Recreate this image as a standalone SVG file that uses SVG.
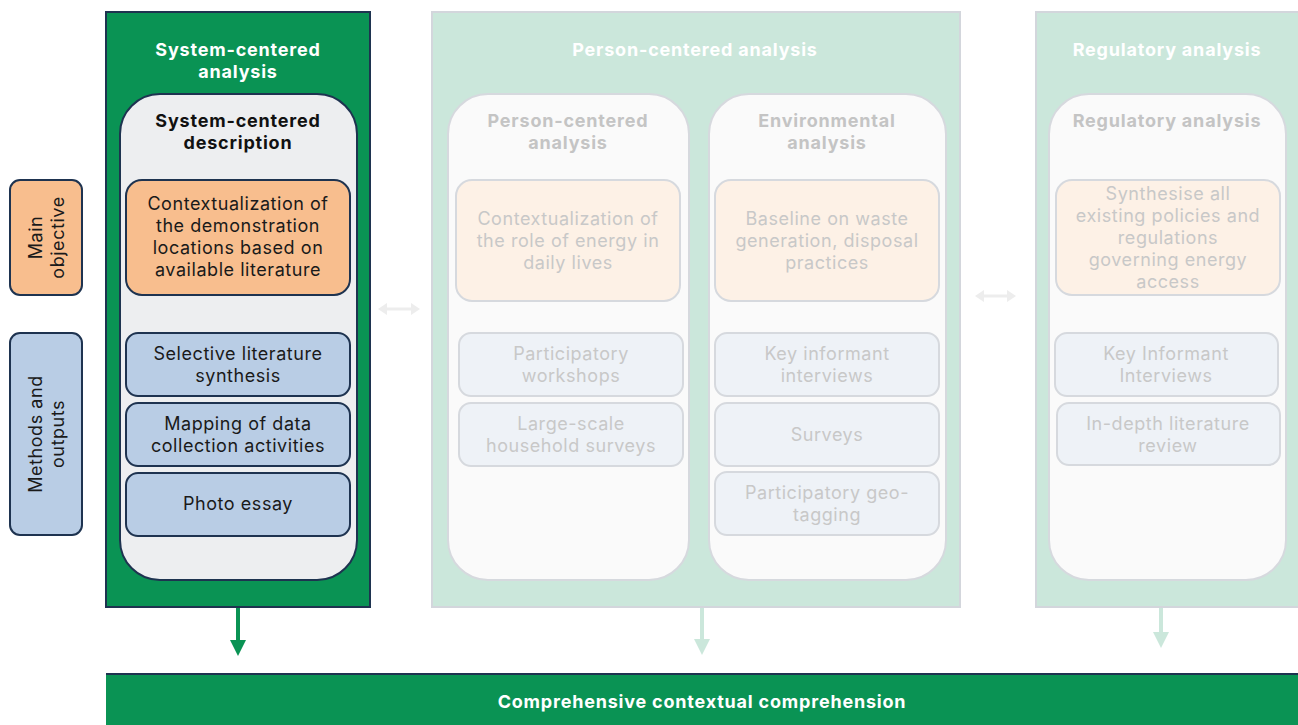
<svg xmlns="http://www.w3.org/2000/svg" width="1298" height="725" viewBox="0 0 1298 725">
  <defs>
    <style>
      text { font-family: Inter, "Open Sans", "Liberation Sans", sans-serif; text-anchor: middle; dominant-baseline: central; font-size: 18px; letter-spacing: 0.55px; }
      .title { font-weight: 700; fill: #ffffff; letter-spacing: 0.8px; }
      .sub { font-weight: 700; fill: #111111; letter-spacing: 0.8px; }
      .subdim { font-weight: 700; fill: #c4c4c4; letter-spacing: 0.8px; }
      .body { fill: #1a1a1a; }
      .bodydim { fill: #c8c8c8; }
      .active { fill: #0a9354; stroke: #1e3350; stroke-width: 2; }
      .faded { fill: #cbe7db; stroke: #d3d6dc; stroke-width: 2; }
      .inner { fill: #edeef0; stroke: #1e3350; stroke-width: 2; }
      .innerdim { fill: #fafafa; stroke: #d6d9de; stroke-width: 2; }
      .obj { fill: #f8be8e; stroke: #1e3350; stroke-width: 2; }
      .objdim { fill: #fdf1e6; stroke: #d6d9de; stroke-width: 2; }
      .meth { fill: #b9cde5; stroke: #1e3350; stroke-width: 2; }
      .methdim { fill: #eef2f7; stroke: #d6d9de; stroke-width: 2; }
    </style>
  </defs>

  <rect width="1298" height="725" fill="#ffffff"/>

  <!-- row labels -->
  <g id="label-objective">
    <rect x="10" y="180" width="72" height="115" rx="10" class="obj"/>
    <text class="body" transform="translate(46 237.5) rotate(-90)"><tspan x="0" y="-11">Main</tspan><tspan x="0" y="11">objective</tspan></text>
  </g>
  <g id="label-methods">
    <rect x="10" y="333" width="72" height="202" rx="10" class="meth"/>
    <text class="body" transform="translate(46 434) rotate(-90)"><tspan x="0" y="-11">Methods and</tspan><tspan x="0" y="11">outputs</tspan></text>
  </g>

  <!-- system-centered column -->
  <g id="system-centered">
    <rect x="106" y="12" width="264" height="595" class="active"/>
    <text class="title"><tspan x="238" y="49">System-centered</tspan><tspan x="238" y="71">analysis</tspan></text>
    <rect x="120" y="94" width="237" height="486" rx="40" class="inner"/>
    <text class="sub"><tspan x="238" y="120">System-centered</tspan><tspan x="238" y="142">description</tspan></text>
    <rect x="126" y="180" width="224" height="115" rx="16" class="obj"/>
    <text class="body"><tspan x="238" y="203">Contextualization of</tspan><tspan x="238" y="225">the demonstration</tspan><tspan x="238" y="247">locations based on</tspan><tspan x="238" y="269">available literature</tspan></text>
    <rect x="126" y="333" width="224" height="63" rx="12" class="meth"/>
    <text class="body"><tspan x="238" y="353">Selective literature</tspan><tspan x="238" y="375">synthesis</tspan></text>
    <rect x="126" y="403" width="224" height="63" rx="12" class="meth"/>
    <text class="body"><tspan x="238" y="423">Mapping of data</tspan><tspan x="238" y="445">collection activities</tspan></text>
    <rect x="126" y="473" width="224" height="63" rx="12" class="meth"/>
    <text class="body" x="238" y="503">Photo essay</text>
  </g>

  <!-- person-centered column -->
  <g id="person-centered">
    <rect x="432" y="12" width="528" height="595" class="faded"/>
    <text class="title" x="695" y="49">Person-centered analysis</text>
    <rect x="448" y="94" width="241" height="486" rx="40" class="innerdim"/>
    <text class="subdim"><tspan x="568" y="120">Person-centered</tspan><tspan x="568" y="142">analysis</tspan></text>
    <rect x="456" y="180" width="224" height="121" rx="16" class="objdim"/>
    <text class="bodydim"><tspan x="568" y="218">Contextualization of</tspan><tspan x="568" y="240">the role of energy in</tspan><tspan x="568" y="262">daily lives</tspan></text>
    <rect x="459" y="333" width="224" height="63" rx="12" class="methdim"/>
    <text class="bodydim"><tspan x="571" y="353">Participatory</tspan><tspan x="571" y="375">workshops</tspan></text>
    <rect x="459" y="403" width="224" height="63" rx="12" class="methdim"/>
    <text class="bodydim"><tspan x="571" y="423">Large-scale</tspan><tspan x="571" y="445">household surveys</tspan></text>
  </g>

  <g id="environmental">
    <rect x="709" y="94" width="237" height="486" rx="40" class="innerdim"/>
    <text class="subdim"><tspan x="827" y="120">Environmental</tspan><tspan x="827" y="142">analysis</tspan></text>
    <rect x="715" y="180" width="224" height="121" rx="16" class="objdim"/>
    <text class="bodydim"><tspan x="827" y="218">Baseline on waste</tspan><tspan x="827" y="240">generation, disposal</tspan><tspan x="827" y="262">practices</tspan></text>
    <rect x="715" y="333" width="224" height="63" rx="12" class="methdim"/>
    <text class="bodydim"><tspan x="827" y="353">Key informant</tspan><tspan x="827" y="375">interviews</tspan></text>
    <rect x="715" y="403" width="224" height="63" rx="12" class="methdim"/>
    <text class="bodydim" x="827" y="434">Surveys</text>
    <rect x="715" y="472" width="224" height="63" rx="12" class="methdim"/>
    <text class="bodydim"><tspan x="827" y="492">Participatory geo-</tspan><tspan x="827" y="514">tagging</tspan></text>
  </g>

  <!-- regulatory column -->
  <g id="regulatory">
    <rect x="1036" y="12" width="272" height="595" class="faded"/>
    <text class="title" x="1167" y="49">Regulatory analysis</text>
    <rect x="1049" y="94" width="237" height="486" rx="40" class="innerdim"/>
    <text class="subdim" x="1167" y="120">Regulatory analysis</text>
    <rect x="1056" y="180" width="224" height="115" rx="16" class="objdim"/>
    <text class="bodydim"><tspan x="1168" y="193">Synthesise all</tspan><tspan x="1168" y="215">existing policies and</tspan><tspan x="1168" y="237">regulations</tspan><tspan x="1168" y="259">governing energy</tspan><tspan x="1168" y="281">access</tspan></text>
    <rect x="1055" y="333" width="223" height="63" rx="12" class="methdim"/>
    <text class="bodydim"><tspan x="1166" y="353">Key Informant</tspan><tspan x="1166" y="375">Interviews</tspan></text>
    <rect x="1057" y="403" width="223" height="62" rx="12" class="methdim"/>
    <text class="bodydim"><tspan x="1168" y="423">In-depth literature</tspan><tspan x="1168" y="445">review</tspan></text>
  </g>

  <!-- result bar -->
  <g id="comprehension">
    <rect x="106" y="674" width="1202" height="60" fill="#0a9354"/>
    <line x1="106" y1="674" x2="1298" y2="674" stroke="#1e3350" stroke-width="2"/>
    <text class="title" x="702" y="701">Comprehensive contextual comprehension</text>
  </g>

  <!-- connectors -->
  <g id="connectors">
    <path d="M238,608 V641" stroke="#0a9354" stroke-width="4" fill="none"/>
    <path d="M230,640 L246,640 L238,656 Z" fill="#0a9354"/>
    <path d="M702,608 V641" stroke="#cbe7db" stroke-width="4" fill="none"/>
    <path d="M694,639 L710,639 L702,655 Z" fill="#cbe7db"/>
    <path d="M1161,608 V633" stroke="#cbe7db" stroke-width="4" fill="none"/>
    <path d="M1153,632 L1169,632 L1161,648 Z" fill="#cbe7db"/>
    <path d="M384,309 H414" stroke="#ededed" stroke-width="3" fill="none"/>
    <path d="M378,309 L387,303 L387,315 Z M420,309 L411,303 L411,315 Z" fill="#ededed"/>
    <path d="M981,296 H1010" stroke="#ededed" stroke-width="3" fill="none"/>
    <path d="M975,296 L984,290 L984,302 Z M1016,296 L1007,290 L1007,302 Z" fill="#ededed"/>
  </g>
</svg>
